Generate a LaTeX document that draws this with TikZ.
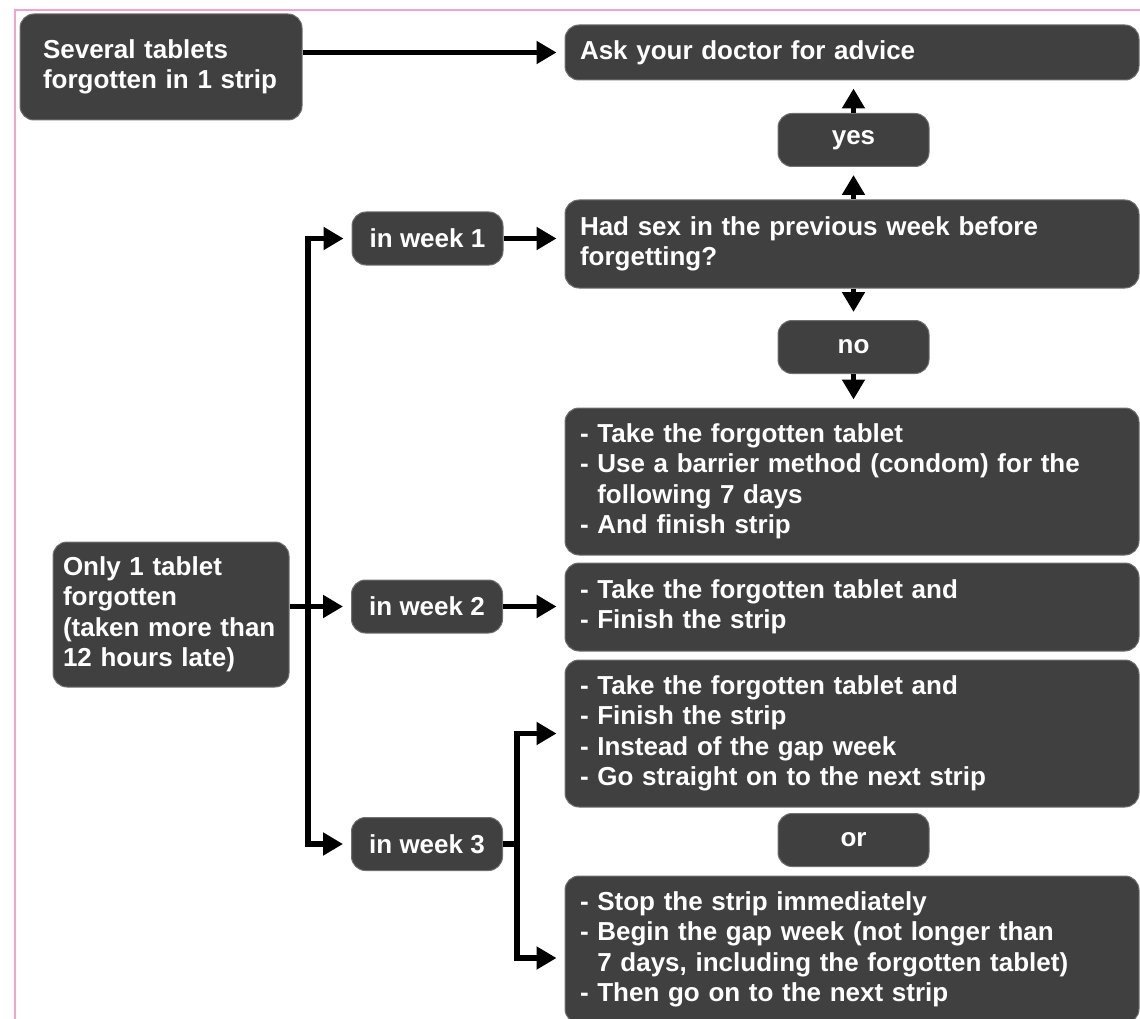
\documentclass[tikz,border=0pt]{standalone}
\usepackage{fontspec}
\setmainfont{Liberation Sans}
\usetikzlibrary{arrows.meta}
\definecolor{boxgrey}{HTML}{404040}
\definecolor{boxedge}{HTML}{707070}
\definecolor{framepink}{HTML}{F7A3C9}
\begin{document}
\begin{tikzpicture}[x=1pt,y=-1pt,
  box/.style={draw=boxedge, line width=1pt, fill=boxgrey, rounded corners=14pt,
    text=white, font=\fontsize{26}{30.5}\selectfont\bfseries, align=left, inner ysep=0pt},
  bigbox/.style={box, minimum width=574pt, text width=544pt, inner xsep=15pt},
  smallbox/.style={box, minimum width=151pt, minimum height=53pt, align=center},
  arr/.style={line width=5.5pt, -{Triangle[length=20pt,width=22pt]}, shorten >=8pt}]

\useasboundingbox (0,0) rectangle (1140,1019);

% Frame
\draw[framepink, line width=2.5pt] (15,1040) -- (15,10) -- (1160,10);

% Left column
\node[box, text width=236pt, inner xsep=23pt, minimum height=106pt] (several) at (161,67)
{Several tablets\\forgotten in 1 strip};

\node[box, text width=216pt, inner xsep=10pt, minimum height=145pt] (onlyone) at (171,614.5)
{Only 1 tablet\\forgotten\\(taken more than\\12 hours late)};

% Weeks
\node[smallbox] (week1) at (427.5,238.5) {in week 1};
\node[smallbox] (week2) at (427,606.5) {in week 2};
\node[smallbox] (week3) at (427,844) {in week 3};

% Right column
\node[bigbox, minimum height=55pt] (doctor) at (852,52.5) {Ask your doctor for advice};
\node[smallbox] (yes) at (853.5,140) {yes};
\node[bigbox, minimum height=88pt] (hadsex) at (852,244)
{Had sex in the previous week before\\forgetting?};
\node[smallbox] (no) at (853.5,347) {no};
\node[bigbox, minimum height=147pt] (barrier) at (852,481.5)
{- Take the forgotten tablet\\- Use a barrier method (condom) for the\\\hphantom{- }following 7 days\\- And finish strip};
\node[bigbox, minimum height=88pt] (finish) at (852,607)
{- Take the forgotten tablet and\\- Finish the strip};
\node[bigbox, minimum height=147pt] (straight) at (852,733.5)
{- Take the forgotten tablet and\\- Finish the strip\\- Instead of the gap week\\- Go straight on to the next strip};
\node[smallbox] (orbox) at (853.5,840) {or};
\node[bigbox, minimum height=147pt] (stop) at (852,949.5)
{- Stop the strip immediately\\- Begin the gap week (not longer than\\\hphantom{- }7 days, including the forgotten tablet)\\- Then go on to the next strip};

% Arrows
\draw[arr] (several.east |- doctor.west) -- (doctor.west);
\draw[arr] (yes.north) -- (yes.north |- doctor.south);
\draw[arr] (yes.south |- hadsex.north) -- (yes.south);
\draw[arr] (no.north |- hadsex.south) -- (no.north);
\draw[arr] (no.south) -- (no.south |- barrier.north);

\coordinate (fork) at (308,606.5);
\draw[arr] (onlyone.east |- week2.west) -- (week2.west);
\draw[arr] (fork) |- (week1.west);
\draw[arr] (fork) |- (week3.west);

\draw[arr] (week1.east) -- (week1.east -| hadsex.west);
\draw[arr] (week2.east) -- (week2.east -| finish.west);

\coordinate (fork3) at (517,844);
\draw[arr] (week3.east) -- (fork3) |- (straight.west);
\draw[arr] (fork3) |- ([yshift=-8.5pt]stop.west);

\end{tikzpicture}
\end{document}
